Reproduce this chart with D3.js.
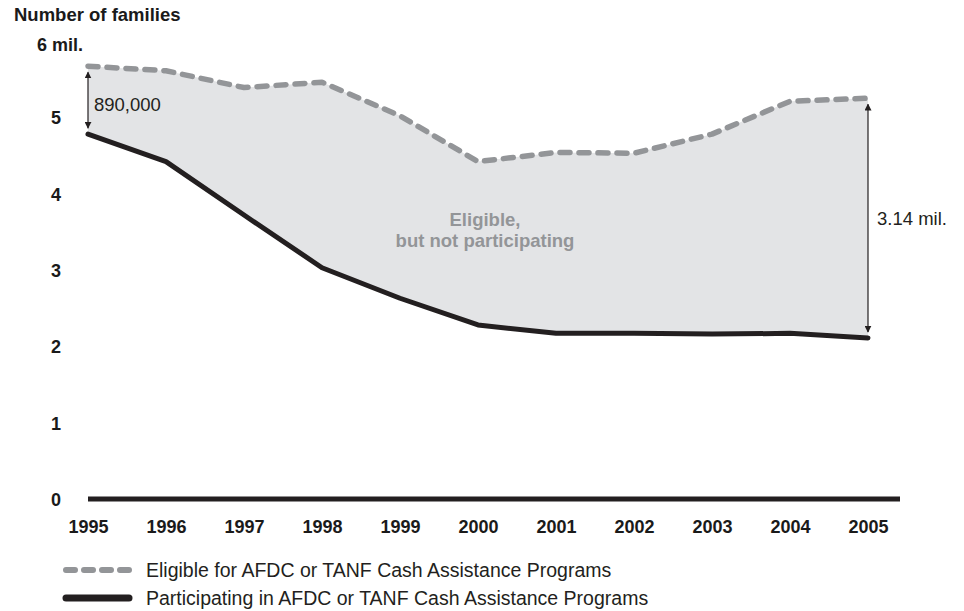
<!DOCTYPE html>
<html>
<head>
<meta charset="utf-8">
<script src="https://cdn.jsdelivr.net/npm/d3@7"></script>
<style>
body { margin: 0; background: #fff; }
svg text { font-family: "Liberation Sans", Arial, Helvetica, sans-serif; }
.tick-label { font-size: 18px; font-weight: bold; fill: #1a1a1a; }
</style>
</head>
<body>
<div id="chart"></div>
<script>
var years = [1995, 1996, 1997, 1998, 1999, 2000, 2001, 2002, 2003, 2004, 2005];
var eligible = [5.67, 5.61, 5.39, 5.46, 5.02, 4.42, 4.54, 4.53, 4.78, 5.21, 5.25];
var participating = [4.78, 4.42, 3.72, 3.03, 2.63, 2.28, 2.17, 2.17, 2.16, 2.17, 2.11];
var yTicks = [0, 1, 2, 3, 4, 5, 6];
var yTickLabels = ['0', '1', '2', '3', '4', '5', '6 mil.'];
var legendLabels = ['Eligible for AFDC or TANF Cash Assistance Programs',
                    'Participating in AFDC or TANF Cash Assistance Programs'];

var width = 964;
var height = 611;

var svg = d3.select('#chart')
    .append('svg')
    .attr('width', width)
    .attr('height', height);

var x = d3.scaleLinear().domain([1995, 2005]).range([88, 868]);
var y = d3.scaleLinear().domain([0, 6]).range([499, 41]);

var rows = years.map(function(yr, i) {
    return { year: yr, e: eligible[i], p: participating[i] };
});

// shaded gap between the two series
var area = d3.area()
    .x(function(d) { return x(d.year); })
    .y0(function(d) { return y(d.p); })
    .y1(function(d) { return y(d.e); });

svg.append('path')
    .datum(rows)
    .attr('d', area)
    .attr('fill', '#e3e4e6');

var eLine = d3.line()
    .x(function(d) { return x(d.year); })
    .y(function(d) { return y(d.e); });
var pLine = d3.line()
    .x(function(d) { return x(d.year); })
    .y(function(d) { return y(d.p); });

svg.append('path')
    .datum(rows)
    .attr('d', pLine)
    .attr('fill', 'none')
    .attr('stroke', '#231f20')
    .attr('stroke-width', 5)
    .attr('stroke-linecap', 'round')
    .attr('stroke-linejoin', 'round');

svg.append('path')
    .datum(rows)
    .attr('d', eLine)
    .attr('fill', 'none')
    .attr('stroke', '#939598')
    .attr('stroke-width', 5.5)
    .attr('stroke-dasharray', '10,9')
    .attr('stroke-linecap', 'round')
    .attr('stroke-linejoin', 'round');

// zero baseline
svg.append('line')
    .attr('x1', x(1995)).attr('x2', x(2005) + 32)
    .attr('y1', y(0)).attr('y2', y(0))
    .attr('stroke', '#231f20')
    .attr('stroke-width', 5);

// y tick labels
svg.selectAll('text.ylab')
    .data(yTicks)
    .enter().append('text')
    .attr('class', 'tick-label ylab')
    .attr('x', function(d) { return d == 6 ? 37 : 56; })
    .attr('y', function(d) { return y(d) + 7 + (d == 6 ? 3 : 0); })
    .attr('text-anchor', function(d) { return d == 6 ? 'start' : 'middle'; })
    .text(function(d, i) { return yTickLabels[i]; });

svg.append('text')
    .attr('class', 'tick-label')
    .attr('x', 14).attr('y', 21)
    .style('font-size', '18.5px')
    .text('Number of families');

// x tick labels
var xAxis = d3.axisBottom(x).tickValues(years).tickFormat(d3.format('d')).tickSize(0).tickPadding(0);
var gx = svg.append('g')
    .attr('transform', 'translate(0,533)')
    .call(xAxis);
gx.select('.domain').remove();
gx.selectAll('text')
    .attr('class', 'tick-label')
    .attr('dy', 0)
    .style('font-size', '18px')
    .style('font-family', '"Liberation Sans", Arial, sans-serif');

// arrows
var defs = svg.append('defs');
defs.append('marker')
    .attr('id', 'arr')
    .attr('viewBox', '0 0 10 10')
    .attr('refX', 9).attr('refY', 5)
    .attr('markerWidth', 7).attr('markerHeight', 7)
    .attr('markerUnits', 'userSpaceOnUse')
    .attr('orient', 'auto-start-reverse')
    .append('path')
    .attr('d', 'M0,0 L10,5 L0,10 z')
    .attr('fill', '#231f20');

function gapArrow(i, pad) {
    svg.append('line')
        .attr('x1', x(years[i])).attr('x2', x(years[i]))
        .attr('y1', y(eligible[i]) + pad).attr('y2', y(participating[i]) - pad)
        .attr('stroke', '#231f20')
        .attr('stroke-width', 1.2)
        .attr('marker-start', 'url(#arr)')
        .attr('marker-end', 'url(#arr)');
}
gapArrow(0, 6);
gapArrow(10, 6);

svg.append('text')
    .attr('x', x(1995) + 6)
    .attr('y', 111)
    .attr('font-size', 18.5)
    .attr('fill', '#231f20')
    .text('890,000');

svg.append('text')
    .attr('x', x(2005) + 9)
    .attr('y', 225)
    .attr('font-size', 18.5)
    .attr('fill', '#231f20')
    .text('3.14 mil.');

// inner label
var mid = svg.append('text')
    .attr('text-anchor', 'middle')
    .attr('font-size', 18.5)
    .attr('font-weight', 'bold')
    .attr('fill', '#939598');
mid.append('tspan').attr('x', 485).attr('y', 226).text('Eligible,');
mid.append('tspan').attr('x', 485).attr('y', 247).text('but not participating');

// legend
var leg = svg.selectAll('g.legend')
    .data(legendLabels)
    .enter().append('g')
    .attr('class', 'legend')
    .attr('transform', function(d, i) { return 'translate(0,' + (570 + i * 28) + ')'; });

leg.append('line')
    .attr('x1', 66)
    .attr('x2', 129)
    .attr('y1', 0).attr('y2', 0)
    .attr('stroke', function(d, i) { return i == 0 ? '#939598' : '#231f20'; })
    .attr('stroke-width', function(d, i) { return i == 0 ? 6 : 7; })
    .attr('stroke-linecap', 'round')
    .attr('stroke-dasharray', function(d, i) { return i == 0 ? '9,9' : null; });

leg.append('text')
    .attr('x', 146).attr('y', 7)
    .attr('font-size', 19.5)
    .attr('fill', '#231f20')
    .text(function(d) { return d; });
</script>
</body>
</html>
